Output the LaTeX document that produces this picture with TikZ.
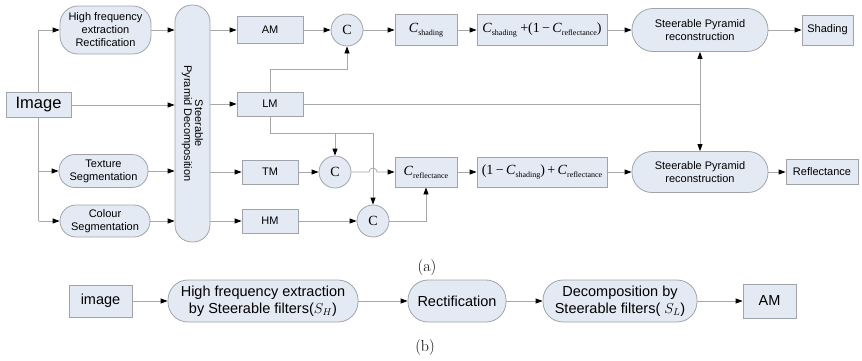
\documentclass[tikz,border=0pt]{standalone}
\usepackage{fontspec}
\newfontfamily\arial{Liberation Sans}
\newfontfamily\tnr{Liberation Serif}
\usetikzlibrary{arrows.meta,calc,backgrounds}
\definecolor{boxfill}{HTML}{E4EAF4}
\definecolor{bordgray}{HTML}{A0A4AA}
\definecolor{linegray}{HTML}{A8A8A8}
\newcommand\Cs{\textit{C}\raisebox{-0.45ex}{\fontsize{8}{8}\selectfont shading}}
\newcommand\Cr{\textit{C}\raisebox{-0.45ex}{\fontsize{8}{8}\selectfont reflectance}}
\begin{document}
\begin{tikzpicture}[x=1pt,y=-1pt,
  box/.style={draw=bordgray, fill=boxfill, line width=0.8pt, inner sep=1pt, align=center,
    font=\arial\fontsize{11}{13}\selectfont},
  rbox/.style={box, rounded corners=#1},
  rbox/.default=16pt,
  bigbox/.style={box, font=\arial\fontsize{14.5}{17}\selectfont},
  bigr/.style={bigbox, rounded corners=20pt},
  fml/.style={box, font=\tnr\fontsize{14}{16}\selectfont},
  cc/.style={box, circle, minimum size=32pt, font=\tnr\fontsize{14}{14}\selectfont},
  ln/.style={draw=linegray, line width=0.8pt},
  arr/.style={ln, -{Triangle[length=7pt,width=5pt,black]}},
  captxt/.style={font=\fontsize{16}{16}\selectfont}
]
\useasboundingbox (0,0) rectangle (862,360);
% ---- (a) ----
\node[box, minimum width=65pt, minimum height=25pt, font=\arial\fontsize{16.5}{18}\selectfont] (image) at (38.5,105) {Image};
\node[rbox=18pt, minimum width=91pt, minimum height=48pt] (hf) at (105.5,30) {High frequency\\extraction\\Rectification};
\node[rbox, minimum width=89pt, minimum height=33pt] (tex) at (103.5,171) {Texture\\Segmentation};
\node[rbox, minimum width=90pt, minimum height=32pt] (col) at (105,221) {Colour\\Segmentation};
\node[rbox=17pt, minimum width=35pt, minimum height=237pt] (spd) at (192.5,123.5)
  {\rotatebox{-90}{\shortstack{Steerable\\Pyramid Decomposition}}};
\node[box, minimum width=66pt, minimum height=27pt] (am) at (270,30) {AM};
\node[box, minimum width=66pt, minimum height=24pt] (lm) at (270,104) {LM};
\node[box, minimum width=56pt, minimum height=24pt] (tm) at (270,172) {TM};
\node[box, minimum width=56pt, minimum height=24pt] (hm) at (270,221) {HM};
\node[cc] (c1) at (347,30) {C};
\node[cc] (c2) at (335,172) {C};
\node[cc] (c3) at (373,221) {C};
\node[fml, minimum width=62pt, minimum height=31pt] (cs) at (426,30) {\Cs};
\node[fml, minimum width=130pt, minimum height=31pt] (f1) at (542,30) {\Cs{} +(1\,\textminus\,\Cr)};
\node[rbox=21pt, minimum width=136pt, minimum height=43pt] (r1) at (700,30) {Steerable Pyramid\\reconstruction};
\node[box, minimum width=51pt, minimum height=30pt] (sh) at (827.5,30) {Shading};
\node[fml, minimum width=62pt, minimum height=30pt] (cr) at (426,172) {\Cr};
\node[fml, minimum width=130pt, minimum height=30pt] (f2) at (542,172) {(1\,\textminus\,\Cs)\,+\,\Cr};
\node[rbox=20pt, minimum width=136pt, minimum height=41pt] (r2) at (700,172) {Steerable Pyramid\\reconstruction};
\node[box, minimum width=72pt, minimum height=25pt] (refl) at (822,172) {Reflectance};
\node[captxt] (capa) at (427,267) {(a)};
% ---- (b) ----
\node[bigbox, minimum width=63pt, minimum height=32pt] (bimg) at (100.5,301) {image};
\node[bigr, minimum width=190pt, minimum height=42pt] (bhf) at (263,301) {High frequency extraction\\by Steerable filters($S_{H}$)};
\node[bigr, minimum width=98pt, minimum height=42pt] (brect) at (457,301) {Rectification};
\node[bigr, minimum width=154pt, minimum height=42pt] (bdec) at (620,301) {Decomposition by\\Steerable filters( $S_{L}$)};
\node[bigbox, minimum width=53pt, minimum height=34pt] (bam) at (769.5,301) {AM};
\node[captxt] (capb) at (425,347) {(b)};
\coordinate (lowbus) at ($(lm.south)+(0,17)$);
\coordinate (jn) at (r1 |- lm);
\begin{scope}[on background layer]
\draw[ln] (image |- hf) -- (image |- col);
\draw[arr] (image |- hf) -- (hf.west);
\draw[arr] (image |- tex) -- (tex.west);
\draw[arr] (image |- col) -- (col.west);
\draw[arr] (image.east) -- (spd.west |- image);
\draw[arr] (hf.east) -- (spd.west |- hf);
\draw[arr] (tex.east) -- (spd.west |- tex);
\draw[arr] (col.east) -- (spd.west |- col);
\draw[arr] (spd.east |- am) -- (am.west);
\draw[arr] (spd.east |- lm) -- (lm.west);
\draw[arr] (spd.east |- tm) -- (tm.west);
\draw[arr] (spd.east |- hm) -- (hm.west);
\draw[arr] (am) -- (c1);
\draw[arr] (c1) -- (cs);
\draw[arr] (cs) -- (f1);
\draw[arr] (f1) -- (r1);
\draw[arr] (r1) -- (sh);
\draw[arr] (lm.north) -- ++(0,-22) -| (c1.south);
\draw[arr] (lm.south) -- (lowbus) -| (c3.north);
\draw[arr] (c2.north |- lowbus) -- (c2.north);
\draw[arr] (tm) -- (c2);
\draw[arr] (hm) -- (c3);
\draw[arr] (c2.east) -- ($(c3.north |- c2.east)+(-4,0)$) arc[start angle=180, end angle=360, radius=4] -- (cr.west);
\draw[arr] (c3.east) -| (cr.south);
\draw[arr] (cr) -- (f2);
\draw[arr] (f2) -- (r2);
\draw[arr] (r2) -- (refl);
\draw[ln] (lm.east) -- (jn);
\draw[arr] (jn) -- (r1.south);
\draw[arr] (jn) -- (r2.north);
\draw[arr] (bimg) -- (bhf);
\draw[arr] (bhf) -- (brect);
\draw[arr] (brect) -- (bdec);
\draw[arr] (bdec) -- (bam);
\end{scope}
\end{tikzpicture}
\end{document}
